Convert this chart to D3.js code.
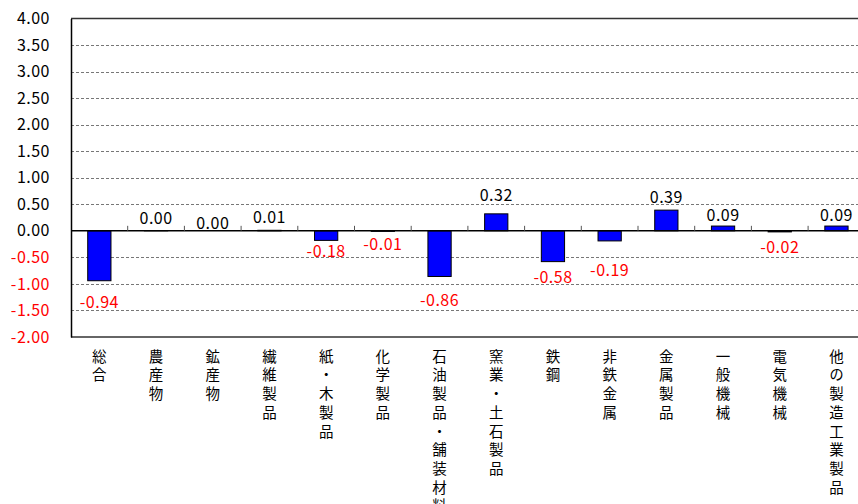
<!DOCTYPE html>
<html><head><meta charset="utf-8">
<script src="https://cdn.jsdelivr.net/npm/d3@7/dist/d3.min.js"></script>
<style>
html,body{margin:0;padding:0;background:#fff;overflow:hidden;}
svg{display:block;}
text{font-family:"Noto Sans CJK JP","Noto Sans",sans-serif;}
.vcat{writing-mode:vertical-rl;text-orientation:upright;}
</style></head>
<body>
<svg id="chart" width="858" height="504"></svg>
<script>
// ---- data ----
const categories = ["総合","農産物","鉱産物","繊維製品","紙・木製品","化学製品","石油製品・舗装材料","窯業・土石製品","鉄鋼","非鉄金属","金属製品","一般機械","電気機械","他の製造工業製品"];
const values = [-0.94, 0.004, 0, 0.01, -0.18, -0.01, -0.86, 0.32, -0.58, -0.19, 0.39, 0.09, -0.02, 0.09];
const yTicks = [4, 3.5, 3, 2.5, 2, 1.5, 1, 0.5, 0, -0.5, -1, -1.5, -2];

// ---- layout (style) ----
const L = {left:71, top:18.5, bottom:337, step:56.7, barFrac:0.41};
// manual label nudges (px), as in the source chart
const labelNudge = [6, -1, 4, -1, -4.6, -2, 8.6, -7, 0, 14, -1.5, 1, 0, 1];

const svg = d3.select("#chart");
const x = d3.scaleBand().domain(categories)
  .range([L.left, L.left + L.step*categories.length]).padding(0);
const y = d3.scaleLinear().domain([-2, 4]).range([L.bottom, L.top]);
const right = L.left + L.step*categories.length;

// gridlines
svg.append("g").selectAll("line").data(yTicks.filter(t => t!==0 && t!==4 && t!==-2)).join("line")
  .attr("x1", L.left).attr("x2", right)
  .attr("y1", d => Math.round(y(d))+0.5).attr("y2", d => Math.round(y(d))+0.5)
  .attr("stroke", "#777").attr("stroke-width", 1).attr("stroke-dasharray", "3,2");

// top & bottom frame lines
svg.append("g").selectAll("line").data([4, -2]).join("line")
  .attr("x1", L.left).attr("x2", right)
  .attr("y1", d => y(d)).attr("y2", d => y(d))
  .attr("stroke", "#333").attr("stroke-width", 1.6);

// y axis
const yAxis = d3.axisLeft(y).tickValues(yTicks).tickSize(0).tickPadding(21)
  .tickFormat(d => d.toFixed(2));
const gy = svg.append("g").attr("transform", `translate(${L.left},0)`).call(yAxis);
gy.select(".domain").attr("stroke", "#000").attr("stroke-width", 1.5);
gy.selectAll("text").attr("font-size", 16).attr("letter-spacing", "0.5px")
  .attr("fill", d => d < 0 ? "#ff0000" : "#000");

// bars
const bw = x.bandwidth()*L.barFrac;
svg.append("g").selectAll("rect").data(values).join("rect")
  .attr("x", (d,i) => x(categories[i]) + (x.bandwidth()-bw)/2)
  .attr("width", bw)
  .attr("y", d => y(Math.max(0, d)))
  .attr("height", d => Math.abs(y(d) - y(0)))
  .attr("fill", "#0000ff").attr("stroke", "#000").attr("stroke-width", 1)
  .style("display", d => d === 0 ? "none" : null);

// zero axis line
svg.append("line").attr("x1", L.left).attr("x2", right)
  .attr("y1", y(0)).attr("y2", y(0)).attr("stroke", "#000").attr("stroke-width", 1.5);

// category tick marks (upward)
svg.append("g").selectAll("line").data(d3.range(1, categories.length+1)).join("line")
  .attr("x1", i => L.left + i*L.step).attr("x2", i => L.left + i*L.step)
  .attr("y1", y(0)).attr("y2", y(0)-5)
  .attr("stroke", "#555").attr("stroke-width", 1);

// value labels
svg.append("g").selectAll("text").data(values).join("text")
  .attr("x", (d,i) => x(categories[i]) + x.bandwidth()/2)
  .attr("y", (d,i) => (d >= 0 ? y(d) - 13 : y(d) + 14) + labelNudge[i])
  .attr("text-anchor", "middle").attr("dominant-baseline", "central")
  .attr("font-size", 16).attr("letter-spacing", "0.5px")
  .attr("fill", d => d < 0 ? "#ff0000" : "#000")
  .text(d => d.toFixed(2));

// vertical category labels
svg.append("g").selectAll("text").data(categories).join("text")
  .attr("class", "vcat")
  .attr("x", d => x(d) + x.bandwidth()/2)
  .attr("y", 349)
  .attr("font-size", 14.5).attr("letter-spacing", "4.2px").attr("fill", "#000")
  .text(d => d);
</script>
</body></html>
